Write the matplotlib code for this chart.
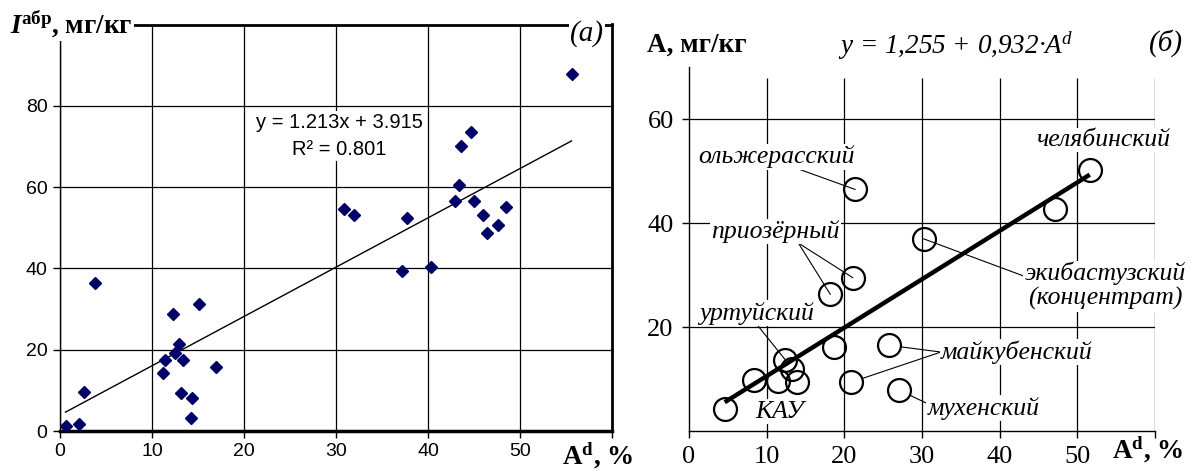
import matplotlib
matplotlib.use('Agg')
import matplotlib.pyplot as plt
import numpy as np

plt.rcParams['mathtext.fontset'] = 'custom'
plt.rcParams['mathtext.rm'] = 'Liberation Serif'
plt.rcParams['mathtext.it'] = 'Liberation Serif:italic'
plt.rcParams['mathtext.bf'] = 'Liberation Serif:bold'
plt.rcParams['mathtext.bfit'] = 'Liberation Serif:italic:bold'

# ---------------- Panel (a) data ----------------
a_x = [0.6, 2.1, 2.6, 3.75, 11.2, 11.4, 12.3, 12.5, 12.9, 13.1, 13.4, 14.2, 14.4, 15.1, 17.0,
       30.9, 32.0, 37.2, 37.7, 40.3, 42.9, 43.4, 43.6, 44.7, 45.0, 46.0, 46.4, 47.6, 48.5, 55.6]
a_y = [1.2, 1.6, 9.7, 36.4, 14.3, 17.4, 28.7, 19.1, 21.4, 9.3, 17.5, 3.3, 8.0, 31.3, 15.7,
       54.6, 53.2, 39.4, 52.4, 40.3, 56.7, 60.6, 70.1, 73.6, 56.6, 53.2, 48.6, 50.6, 55.0, 87.7]
a_slope, a_icept = 1.213, 3.915
a_r2 = 0.801
a_xticks = [0, 10, 20, 30, 40, 50, 60]
a_xticklabels = ['0', '10', '20', '30', '40', '50', '']
a_yticks = [0, 20, 40, 60, 80]

# ---------------- Panel (б) data ----------------
b_x = [4.6, 8.4, 11.5, 13.9, 12.4, 13.2, 18.7, 20.9, 25.7, 27.0, 18.2, 21.1, 30.2, 47.1, 51.6, 21.4]
b_y = [4.2, 9.9, 9.6, 9.5, 13.7, 11.9, 16.2, 9.4, 16.5, 7.9, 26.3, 29.5, 37.0, 42.8, 50.3, 46.5]
b_icept, b_slope = 1.255, 0.932
b_xticks = [0, 10, 20, 30, 40, 50, 60]
b_xticklabels = ['0', '10', '20', '30', '40', '50', '']
b_yticks = [20, 40, 60]

W, H = 1203, 471
fig = plt.figure(figsize=(W / 100, H / 100), dpi=100)

def fx(px):
    return px / W

def fy(py):
    return 1 - py / H

# ================= Panel (a) =================
axa = fig.add_axes([fx(60), fy(431), fx(612 - 60), (431 - 24.5) / H])
axa.set_xlim(0, 60)
axa.set_ylim(0, 100)
axa.set_xticks(a_xticks)
axa.set_xticklabels(a_xticklabels)
axa.set_yticks(a_yticks)
axa.grid(True, color='black', lw=0.9)
axa.set_axisbelow(True)
for s, lw in [('top', 2.0), ('right', 2.0), ('bottom', 2.5), ('left', 1.0)]:
    axa.spines[s].set_linewidth(lw)
    axa.spines[s].set_color('black')
axa.tick_params(direction='out', length=5, width=1, labelsize=14, pad=4)
for lab in axa.get_xticklabels() + axa.get_yticklabels():
    lab.set_fontfamily('Liberation Sans')

axa.plot(a_x, a_y, linestyle='none', marker='D', ms=6.2, color='#000066', zorder=4)
tx = np.array([min(a_x), max(a_x)])
axa.plot(tx, a_slope * tx + a_icept, color='black', lw=1.0, zorder=3)

axa.text(30.4, 72.6, f"y = {a_slope:.3f}x + {a_icept:.3f}\nR² = {a_r2:.3f}",
         ha='center', va='center', fontsize=14.5, family='Liberation Sans',
         linespacing=1.5, zorder=3.5,
         bbox=dict(fc='white', ec='none', pad=1.5))

fig.text(fx(10), fy(24), r"$\mathbfit{I}^{\mathbf{абр}}$, мг/кг", ha='left', va='center',
         fontsize=19.5, family='Liberation Serif', fontweight='bold', zorder=5,
         bbox=dict(fc='white', ec='none', pad=1))
fig.text(fx(587), fy(34), "(a)", ha='center', va='center', fontsize=21,
         family='Liberation Serif', style='italic', zorder=5,
         bbox=dict(fc='white', ec='none', pad=0.5))
fig.text(fx(598), fy(456), r"A$^{\mathbf{d}}$, %", ha='center', va='center',
         fontsize=19.5, family='Liberation Serif', fontweight='bold')

# ================= Panel (б) =================
axb = fig.add_axes([fx(689), fy(431), fx(1155 - 689), (431 - 67.4) / H])
axb.set_xlim(0, 60)
axb.set_ylim(0, 70)
axb.set_xticks(b_xticks)
axb.set_xticklabels(b_xticklabels)
axb.set_yticks(b_yticks)
axb.spines['top'].set_visible(False)
axb.spines['right'].set_visible(False)
axb.spines['left'].set_linewidth(1.0)
axb.spines['bottom'].set_linewidth(1.0)
axb.tick_params(direction='out', length=5, width=1, labelsize=19, pad=6)
for lab in axb.get_xticklabels() + axb.get_yticklabels():
    lab.set_fontfamily('Liberation Serif')
axb.vlines(b_xticks[1:], 0, 68, color='black', lw=0.9, zorder=1)
axb.hlines(b_yticks, 0, 60, color='black', lw=0.9, zorder=1)

axb.plot(b_x, b_y, linestyle='none', marker='o', ms=16.5, mfc='none', mec='black',
         mew=1.6, zorder=4)
bx = np.array([min(b_x), max(b_x)])
axb.plot(bx, b_icept + b_slope * bx, color='black', lw=3.2, zorder=5,
         solid_capstyle='butt')

tkw = dict(fontsize=18.5, family='Liberation Serif', style='italic', ha='center', va='center',
           zorder=3, bbox=dict(fc='white', ec='none', pad=1))
akw = dict(arrowstyle='-', lw=0.8, color='black', shrinkA=0, shrinkB=0)

# ольжерасский
axb.annotate('ольжерасский', xy=(b_x[15], b_y[15]), xytext=(11.2, 52.8),
             arrowprops=dict(akw, relpos=(0.63, 0.0)), **tkw)
# приозёрный -> two points
for i in (11, 10):
    axb.annotate('приозёрный', xy=(b_x[i], b_y[i]), xytext=(11.1, 38.4),
                 arrowprops=dict(akw, relpos=(0.68, 0.0)), **tkw)
# уртуйский
axb.annotate('уртуйский', xy=(b_x[4], b_y[4]), xytext=(8.75, 22.7),
             arrowprops=dict(akw, relpos=(0.5, 0.0)), **tkw)
# КАУ
axb.text(11.7, 3.7, 'КАУ', **tkw)
# челябинский
axb.text(53.3, 56.0, 'челябинский', **tkw)
# экибастузский (концентрат)
axb.annotate('экибастузский\n(концентрат)', xy=(b_x[12], b_y[12]), xytext=(53.6, 27.9),
             arrowprops=dict(akw, relpos=(0.0, 0.7)), linespacing=1.1, **tkw)
# майкубенский
for i in (8, 7):
    axb.annotate('майкубенский', xy=(b_x[i], b_y[i]), xytext=(42.2, 15.2),
                 arrowprops=dict(akw, relpos=(0.0, 0.5), shrinkB=9), **tkw)
# мухенский
axb.annotate('мухенский', xy=(b_x[9], b_y[9]), xytext=(37.9, 4.4),
             arrowprops=dict(akw, relpos=(0.0, 0.7), shrinkB=9), **tkw)

fig.text(fx(647), fy(45), "А, мг/кг", ha='left', va='center', fontsize=19.5,
         family='Liberation Serif', fontweight='bold')
fig.text(fx(956), fy(46), "y = 1,255 + 0,932·A$^{d}$", ha='center', va='center',
         fontsize=19.5, family='Liberation Serif', style='italic')
fig.text(fx(1166), fy(43), "(б)", ha='center', va='center', fontsize=21,
         family='Liberation Serif', style='italic')
fig.text(fx(1148), fy(450), r"A$^{\mathbf{d}}$, %", ha='center', va='center',
         fontsize=19.5, family='Liberation Serif', fontweight='bold')

fig.savefig('out.png', dpi=100)
